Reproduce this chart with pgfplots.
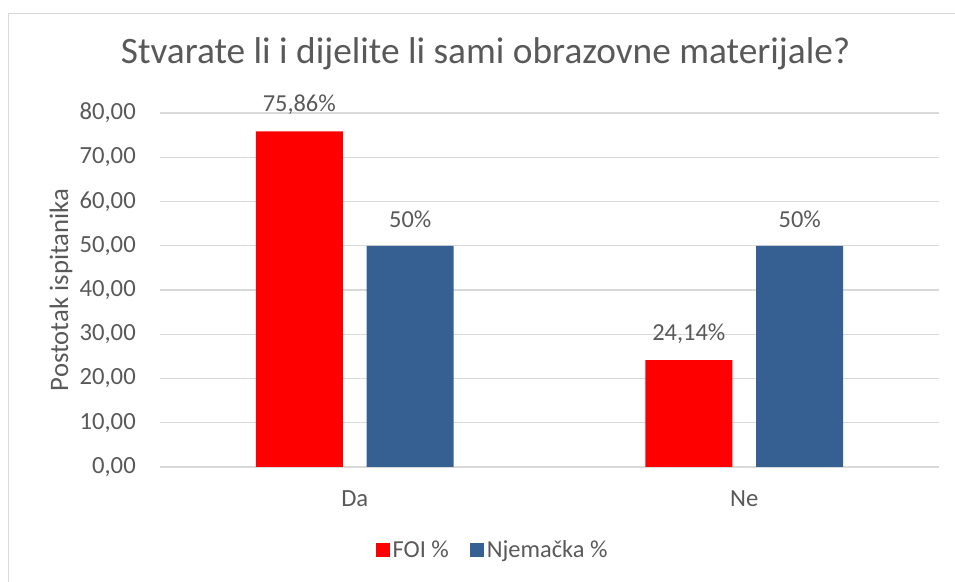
\documentclass[border=0pt]{standalone}
\usepackage{fontspec}
\setmainfont{Carlito}
\usepackage{pgfplots}
\pgfplotsset{compat=1.18}
\definecolor{foi}{HTML}{FF0000}
\definecolor{njem}{HTML}{376092}
\definecolor{txt}{HTML}{595959}
\definecolor{grd}{HTML}{D9D9D9}
\begin{document}
\begin{tikzpicture}
\path[use as bounding box] (0,0) rectangle (716.25pt,435.75pt);
\draw[grd, line width=0.75pt] (6pt,-1pt) -- (6pt,425.25pt) -- (717pt,425.25pt);
\begin{axis}[
  at={(120pt,85.5pt)}, anchor=south west,
  scale only axis, width=584.25pt, height=265.5pt,
  ybar, bar width=65.25pt,
  xmin=-0.5, xmax=1.5, ymin=0, ymax=80,
  xtick={0,1}, xticklabels={Da,Ne},
  ytick={0,10,...,80},
  major tick length=0pt,
  axis line style={draw=none},
  ymajorgrids, grid style={grd, line width=0.9pt},
  /pgf/number format/.cd, fixed, fixed zerofill, precision=2, use comma, 1000 sep={}, assume math mode=true,
  /pgfplots/.cd,
  tick label style={font=\fontsize{18.5}{21}\selectfont, text=txt},
  yticklabel style={inner sep=0pt, anchor=east, xshift=-18pt},
  xticklabel style={inner sep=0pt, anchor=center, yshift=-24pt},
  ylabel={Postotak ispitanika},
  ylabel style={font=\fontsize{20}{23}\selectfont, text=txt, at={(axis description cs:-0.127,0.5)}, anchor=center},
  title={Stvarate li i dijelite li sami obrazovne materijale?},
  title style={font=\fontsize{28}{32}\selectfont, text=txt, at={(axis description cs:0.418,1.144)}, anchor=center},
  point meta=explicit symbolic,
  nodes near coords,
  nodes near coords style={font=\fontsize{18.3}{21}\selectfont, text=txt, anchor=center, yshift=20pt},
  legend columns=2,
  legend style={draw=none, fill=none, at={(0.4275,-0.2345)}, anchor=center,
    font=\fontsize{18.3}{21}\selectfont, text=txt,
    /tikz/every even column/.append style={column sep=14pt}},
  legend image code/.code={\path[#1, draw=none] (0pt,-5.25pt) rectangle (10.5pt,5.25pt);},
]
\addplot[fill=foi, draw=none, bar shift=-41.6pt] coordinates {(0,75.86) [75,86\%] (1,24.14) [24,14\%]};
\addplot[fill=njem, draw=none, bar shift=41.6pt] coordinates {(0,50) [50\%] (1,50) [50\%]};
\legend{FOI \%, Njemačka \%}
\end{axis}
\end{tikzpicture}
\end{document}
